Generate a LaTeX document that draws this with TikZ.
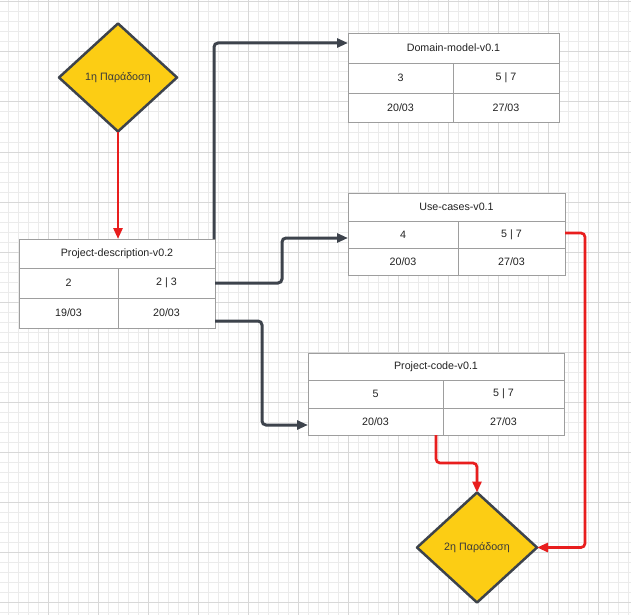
\documentclass[tikz,border=0pt]{standalone}
\usepackage{fontspec}
\setmainfont{Liberation Sans}
\usetikzlibrary{shapes.geometric,arrows.meta,calc}
\definecolor{gridminor}{HTML}{EBEBEB}
\definecolor{gridmajor}{HTML}{D8D8D8}
\definecolor{tabline}{HTML}{9E9E9E}
\definecolor{darkline}{HTML}{3D434C}
\definecolor{redline}{HTML}{E81E1E}
\definecolor{yell}{HTML}{FCCD14}
\definecolor{txt}{HTML}{222222}
\definecolor{diamtxt}{HTML}{3A3A3A}
\begin{document}
\begin{tikzpicture}[x=1pt,y=-1pt,
  font=\fontsize{10.7}{12}\selectfont,
  cell/.style={draw=tabline, line width=0.9pt, fill=white, inner sep=0pt, outer sep=0pt, anchor=north west, text=txt},
  decision/.style={diamond, draw=darkline, line width=2.5pt, fill=yell, minimum width=118pt, minimum height=108pt, inner sep=0pt, outer sep=0pt, text=diamtxt, line join=round},
  conn/.style={draw=darkline, line width=3pt, rounded corners=4pt, -{Triangle[length=11pt,width=9pt]}},
  redconn/.style={draw=redline, line width=2.7pt, rounded corners=4pt, -{Triangle[length=11pt,width=9pt]}},
  minorline/.style={draw=gridminor, line width=1pt},
  majorline/.style={draw=gridmajor, line width=1pt}]
\useasboundingbox (0,0) rectangle (631,615);
\fill[white] (0,0) rectangle (631,615);
% grid
\foreach \i in {0,...,62} \draw[minorline] ({8.3+10*\i},0) -- ({8.3+10*\i},615);
\foreach \i in {0,...,61} \draw[minorline] (0,{2+10*\i}) -- (631,{2+10*\i});
\foreach \i in {-1,...,11} \draw[majorline] ({48.3+50*\i},0) -- ({48.3+50*\i},615);
\foreach \i in {0,...,12} \draw[majorline] (0,{2+50*\i}) -- (631,{2+50*\i});

% diamonds
\node[decision] (d1) at (118,77.5) {1η Παράδοση};
\node[decision, minimum width=120pt, minimum height=110pt] (d2) at (477,547.5) {2η Παράδοση};

% table 1
\node[cell, minimum width=196pt, minimum height=29pt] (t1h) at (19,239) {Project-description-v0.2};
\node[cell, minimum width=99pt, minimum height=30pt] (t1a) at (19,268) {2};
\node[cell, minimum width=97pt, minimum height=30pt] (t1b) at (118,268) {2 | 3};
\node[cell, minimum width=99pt, minimum height=30pt] (t1c) at (19,298) {19/03};
\node[cell, minimum width=97pt, minimum height=30pt] (t1d) at (118,298) {20/03};

% table 2
\node[cell, minimum width=211pt, minimum height=30pt] (t2h) at (348,33) {Domain-model-v0.1};
\node[cell, minimum width=105pt, minimum height=30pt] (t2a) at (348,63) {3};
\node[cell, minimum width=106pt, minimum height=30pt] (t2b) at (453,63) {5 | 7};
\node[cell, minimum width=105pt, minimum height=29pt] (t2c) at (348,93) {20/03};
\node[cell, minimum width=106pt, minimum height=29pt] (t2d) at (453,93) {27/03};

% table 3
\node[cell, minimum width=217pt, minimum height=28pt] (t3h) at (348,193) {Use-cases-v0.1};
\node[cell, minimum width=110pt, minimum height=27pt] (t3a) at (348,221) {4};
\node[cell, minimum width=107pt, minimum height=27pt] (t3b) at (458,221) {5 | 7};
\node[cell, minimum width=110pt, minimum height=27pt] (t3c) at (348,248) {20/03};
\node[cell, minimum width=107pt, minimum height=27pt] (t3d) at (458,248) {27/03};

% table 4
\node[cell, minimum width=256pt, minimum height=27pt] (t4h) at (308,353) {Project-code-v0.1};
\node[cell, minimum width=135pt, minimum height=28pt] (t4a) at (308,380) {5};
\node[cell, minimum width=121pt, minimum height=28pt] (t4b) at (443,380) {5 | 7};
\node[cell, minimum width=135pt, minimum height=27pt] (t4c) at (308,408) {20/03};
\node[cell, minimum width=121pt, minimum height=27pt] (t4d) at (443,408) {27/03};

% connectors
\draw[conn] ([xshift=-1pt]t1h.north east) |- ([yshift=5pt]t2h.west);
\draw[conn] (t1b.east) -- ++(67,0) |- ([yshift=-3.5pt]t3a.west);
\draw[conn] ([yshift=-8pt]t1d.east) -- ++(47,0) |- ([yshift=-3.5pt]t4c.west);
\draw[redconn] (d1.south) -- (d1.south |- t1h.north);
\draw[redconn] ([yshift=1.5pt]t3b.east) -- ++(20,0) |- (d2.east);
\draw[redconn] ([xshift=-7pt]t4c.south east) -- ++(0,28) -| (d2.north);
\end{tikzpicture}
\end{document}
